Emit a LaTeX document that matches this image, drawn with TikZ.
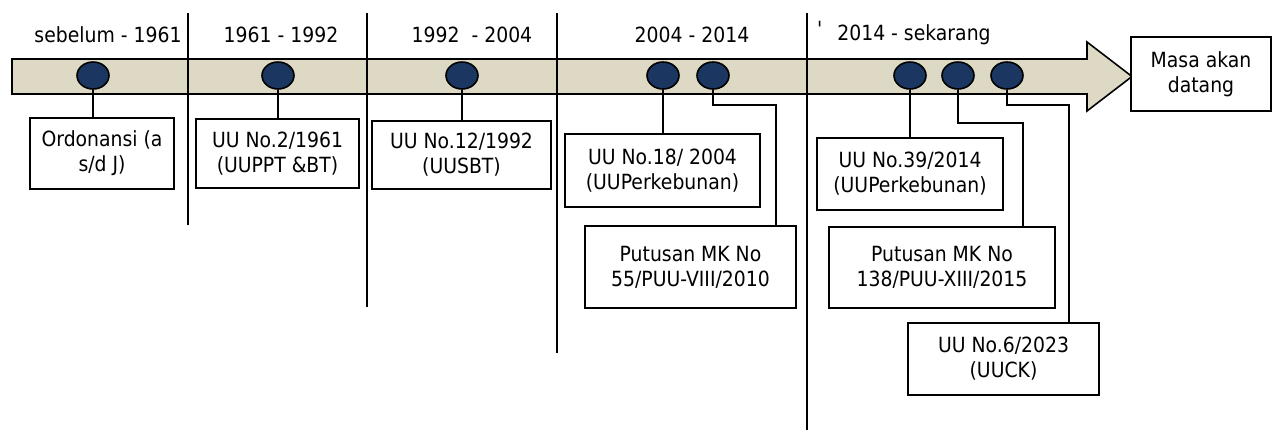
\documentclass[tikz,border=0pt]{standalone}
\usepackage{fontspec}
\setmainfont[FakeStretch=0.9]{DejaVu Sans}
\usetikzlibrary{shapes.geometric}
\definecolor{bandfill}{HTML}{DDD9C4}
\definecolor{dotfill}{HTML}{1B3660}
\tikzset{
  dot/.style={ellipse,draw=black,fill=dotfill,line width=0.9pt,minimum width=0.64cm,minimum height=0.54cm,inner sep=0pt},
  lawbox/.style={draw=black,fill=white,line width=0.9pt,align=center,inner sep=0pt},
  period/.style={inner sep=0pt},
  link/.style={line width=1pt}
}
\begin{document}
\begin{tikzpicture}[line join=miter,x=0.02cm,y=-0.02cm,font=\fontsize{11.9}{14.2}\selectfont]
\useasboundingbox (0,0) rectangle (1272,433);
% band with arrow head
\draw[line width=0.9pt,fill=bandfill] (12,59) -- (1087,59) -- (1087,42) -- (1132,76.5) -- (1087,111) -- (1087,94) -- (12,94) -- cycle;
% period dividers
\foreach \x/\e in {188/225,367/307,557/353,807/430}
{
\draw[line width=0.8pt] (\x,13) -- (\x,\e);
}
% period labels
\node[period] (p1) at (108,35) {sebelum - 1961};
\node[period] (p2) at (281,35) {1961 - 1992};
\node[period] (p3) at (472,35) {1992 \ - 2004};
\node[period] (p4) at (692,35) {2004 - 2014};
\node[period] (p5) at (914,35) {2014 - sekarang};
\node[period] (tick) at (820,29) {\textquotesingle};
% events on the band
\foreach \n/\x in {1/93,2/278,3/462,4/663,5/713,6/910,7/958,8/1007}
{
\node[dot] (d\n) at (\x,75.5) {};
}
% laws
\node[lawbox,minimum width=2.88cm,minimum height=1.42cm] (b1) at (102,153.5) {Ordonansi (a\\s/d J)};
\node[lawbox,minimum width=3.26cm,minimum height=1.38cm] (b2) at (277.5,153.5) {UU No.2/1961\\(UUPPT \&BT)};
\node[lawbox,minimum width=3.58cm,minimum height=1.36cm] (b3) at (461.5,155) {UU No.12/1992\\(UUSBT)};
\node[lawbox,minimum width=3.90cm,minimum height=1.46cm] (b4) at (662.5,170.5) {UU No.18/ 2004\\(UUPerkebunan)};
\node[lawbox,minimum width=4.22cm,minimum height=1.64cm] (b5) at (690.5,267) {Putusan MK No\\55/PUU-VIII/2010};
\node[lawbox,minimum width=3.72cm,minimum height=1.44cm] (b6) at (910,174) {UU No.39/2014\\(UUPerkebunan)};
\node[lawbox,minimum width=4.52cm,minimum height=1.62cm] (b7) at (942,267.5) {Putusan MK No\\138/PUU-XIII/2015};
\node[lawbox,minimum width=3.82cm,minimum height=1.44cm] (b8) at (1003.5,359) {UU No.6/2023\\(UUCK)};
\node[lawbox,minimum width=2.80cm,minimum height=1.48cm] (future) at (1201,74) {Masa akan\\datang};
% links
\draw[link] (d1.south) -- (d1.south |- b1.north);
\draw[link] (d2.south) -- (d2.south |- b2.north);
\draw[link] (d3.south) -- (d3.south |- b3.north);
\draw[link] (d4.south) -- (d4.south |- b4.north);
\draw[link] (d6.south) -- (d6.south |- b6.north);
\draw[link] (d5.south) -- ++(0,15) -| ([xshift=-0.42cm]b5.north east);
\draw[link] (d7.south) -- ++(0,33.5) -| ([xshift=-0.66cm]b7.north east);
\draw[link] (d8.south) -- ++(0,15.5) -| ([xshift=-0.62cm]b8.north east);
\end{tikzpicture}
\end{document}
